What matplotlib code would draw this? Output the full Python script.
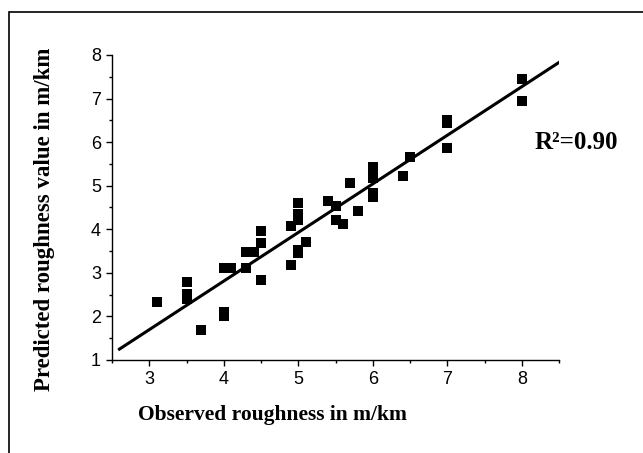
import matplotlib
matplotlib.use('Agg')
import matplotlib.pyplot as plt
from matplotlib.patches import Rectangle
from matplotlib.ticker import MultipleLocator

# observed vs predicted roughness (m/km)
observed = [3.1, 3.5, 3.5, 3.5, 3.7, 4.0, 4.1, 4.0, 4.0, 4.3, 4.4, 4.3,
            4.5, 4.5, 4.4, 4.5, 4.9, 4.9, 5.0, 5.0, 5.0, 5.0, 5.0, 5.1,
            5.4, 5.5, 5.5, 5.6, 5.7, 5.8, 6.0, 6.0, 6.0, 6.0, 6.0, 6.4,
            6.5, 7.0, 7.0, 7.0, 8.0, 8.0]
predicted = [2.32, 2.78, 2.51, 2.41, 1.69, 3.10, 3.10, 2.11, 2.02, 3.47, 3.47, 3.12,
             3.97, 3.69, 3.47, 2.83, 4.07, 3.17, 4.61, 4.36, 4.21, 3.52, 3.45, 3.71,
             4.65, 4.54, 4.21, 4.13, 5.07, 4.42, 5.43, 5.29, 5.17, 4.83, 4.75, 5.23,
             5.66, 6.50, 6.45, 5.86, 7.46, 6.94]

# fitted line end points
fit_x = [2.6, 8.5]
fit_y = [1.25, 7.83]

r2_text = 'R\u00b2=0.90'

fig = plt.figure(figsize=(6.43, 4.53), dpi=100)
ax = fig.add_axes([0.1742, 0.2053, 0.6952, 0.6733])

ax.plot(observed, predicted, 's', color='black', markersize=7, markeredgewidth=0)
ax.plot(fit_x, fit_y, '-', color='black', linewidth=2.2)

ax.set_xlim(2.5, 8.5)
ax.set_ylim(1, 8)
ax.xaxis.set_major_locator(MultipleLocator(1))
ax.xaxis.set_minor_locator(MultipleLocator(0.5))
ax.yaxis.set_major_locator(MultipleLocator(1))
ax.yaxis.set_minor_locator(MultipleLocator(0.5))

for s in ['top', 'right']:
    ax.spines[s].set_visible(False)
for s in ['left', 'bottom']:
    ax.spines[s].set_linewidth(1.0)

ax.tick_params(which='major', direction='out', length=4, width=1.0,
               labelsize=13, pad=4)
ax.tick_params(which='minor', direction='out', length=2.5, width=1.0)
for lab in ax.get_xticklabels() + ax.get_yticklabels():
    lab.set_fontfamily('Liberation Sans')

serif_bold = dict(family='Liberation Serif', weight='bold')
ax.set_xlabel('Observed roughness in m/km', fontsize=15.5, va='center', **serif_bold)
ax.set_ylabel('Predicted roughness value in m/km', fontsize=16.5, va='center', **serif_bold)
ax.xaxis.set_label_coords(0.36, -0.18)
ax.yaxis.set_label_coords(-0.15, 0.462)

ax.text(8.17, 6.0, r2_text, ha='left', va='center', fontsize=18, **serif_bold)

# outer frame (only left and top edges show)
fig.patches.append(Rectangle((9 / 643, -0.1), 1.2, (453 - 12) / 453 + 0.1,
                             transform=fig.transFigure, fill=False,
                             edgecolor='black', linewidth=1.2, clip_on=False))

fig.savefig('out.png', dpi=100)
